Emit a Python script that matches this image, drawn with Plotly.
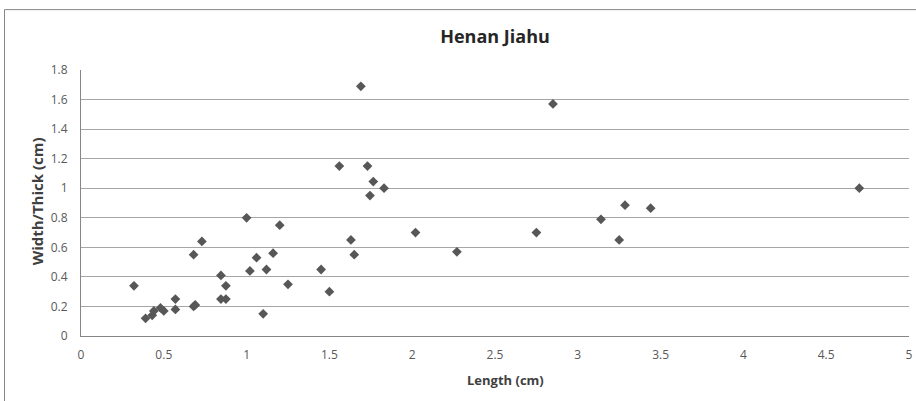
import plotly.graph_objects as go

length_cm = [0.32, 0.39, 0.43, 0.44, 0.48, 0.50, 0.57, 0.57, 0.68, 0.73, 0.68, 0.69,
             0.845, 0.875, 0.845, 0.875, 1.00, 1.10, 1.02, 1.06, 1.12, 1.16, 1.20, 1.25,
             1.45, 1.50, 1.56, 1.63, 1.65, 1.69, 1.73, 1.745, 1.765, 1.83, 2.02, 2.27,
             2.75, 2.85, 3.14, 3.25, 3.285, 3.44, 4.70]
width_thick_cm = [0.34, 0.12, 0.14, 0.17, 0.19, 0.17, 0.25, 0.18, 0.55, 0.64, 0.20, 0.21,
                  0.41, 0.34, 0.25, 0.25, 0.80, 0.15, 0.44, 0.53, 0.45, 0.56, 0.75, 0.35,
                  0.45, 0.30, 1.15, 0.65, 0.55, 1.69, 1.15, 0.95, 1.045, 1.00, 0.70, 0.57,
                  0.70, 1.57, 0.79, 0.65, 0.885, 0.865, 1.00]
x_ticks = [0, 0.5, 1, 1.5, 2, 2.5, 3, 3.5, 4, 4.5, 5]
x_tick_labels = ["0", "0.5", "1", "1.5", "2", "2.5", "3", "3.5", "4", "4.5", "5"]
y_ticks = [0, 0.2, 0.4, 0.6, 0.8, 1.0, 1.2, 1.4, 1.6, 1.8]
y_tick_labels = ["0", "0.2", "0.4", "0.6", "0.8", "1", "1.2", "1.4", "1.6", "1.8"]

W, H = 916, 401
PL, PR, PT, PB = 81, 909, 69.5, 336   # plot-area edges in pixels
pw, ph = PR - PL, PB - PT

fig = go.Figure()
fig.add_trace(go.Scatter(
    x=length_cm, y=width_thick_cm, mode="markers",
    marker=dict(symbol="diamond", size=7.5, color="#575757"),
    showlegend=False, hoverinfo="x+y", cliponaxis=False,
))

font_family = "Open Sans, Liberation Sans, sans-serif"
fig.update_layout(
    width=W, height=H,
    margin=dict(l=PL, r=W - PR, t=PT, b=H - PB, autoexpand=False),
    paper_bgcolor="white", plot_bgcolor="white",
    title=dict(text="<b>Henan Jiahu</b>", x=0.5, xref="paper", xanchor="center",
               y=1 - 37 / H, yref="container", yanchor="middle", automargin=False,
               font=dict(family=font_family, size=18, color="#262626")),
    font=dict(family=font_family, color="#595959"),
    xaxis=dict(
        range=[0, 5], tickvals=x_ticks, ticktext=x_tick_labels,
        showgrid=False, zeroline=False, automargin=False,
        showline=True, linecolor="#868686", linewidth=1,
        ticks="", ticklabelstandoff=8, tickfont=dict(size=12, color="#595959"),
    ),
    yaxis=dict(
        range=[0, 1.8], tickvals=y_ticks, ticktext=y_tick_labels,
        showgrid=True, gridcolor="#a6a6a6", gridwidth=1, zeroline=False, automargin=False,
        showline=True, linecolor="#868686", linewidth=1,
        ticks="", ticklabelstandoff=10, tickfont=dict(size=12, color="#595959"),
    ),
    annotations=[
        dict(text="<b>Length (cm)</b>", xref="paper", yref="paper",
             x=(506 - PL) / pw, y=(PB - 380) / ph, xanchor="center", yanchor="middle",
             showarrow=False, font=dict(family=font_family, size=13, color="#404040")),
        dict(text="<b>Width/Thick (cm)</b>", xref="paper", yref="paper",
             x=(37 - PL) / pw, y=(PB - 201) / ph, xanchor="center", yanchor="middle",
             textangle=-90, showarrow=False,
             font=dict(family=font_family, size=15, color="#404040")),
    ],
    shapes=[dict(type="rect", xref="paper", yref="paper",
                 x0=(4.5 - PL) / pw, x1=(W + 20 - PL) / pw,
                 y0=(PB - H - 20) / ph, y1=(PB - 9) / ph,
                 line=dict(color="#868686", width=1), fillcolor="rgba(0,0,0,0)", layer="below")],
)

fig.write_html("out.html", config={"displayModeBar": False},
               post_script="document.body.style.margin='0';")
